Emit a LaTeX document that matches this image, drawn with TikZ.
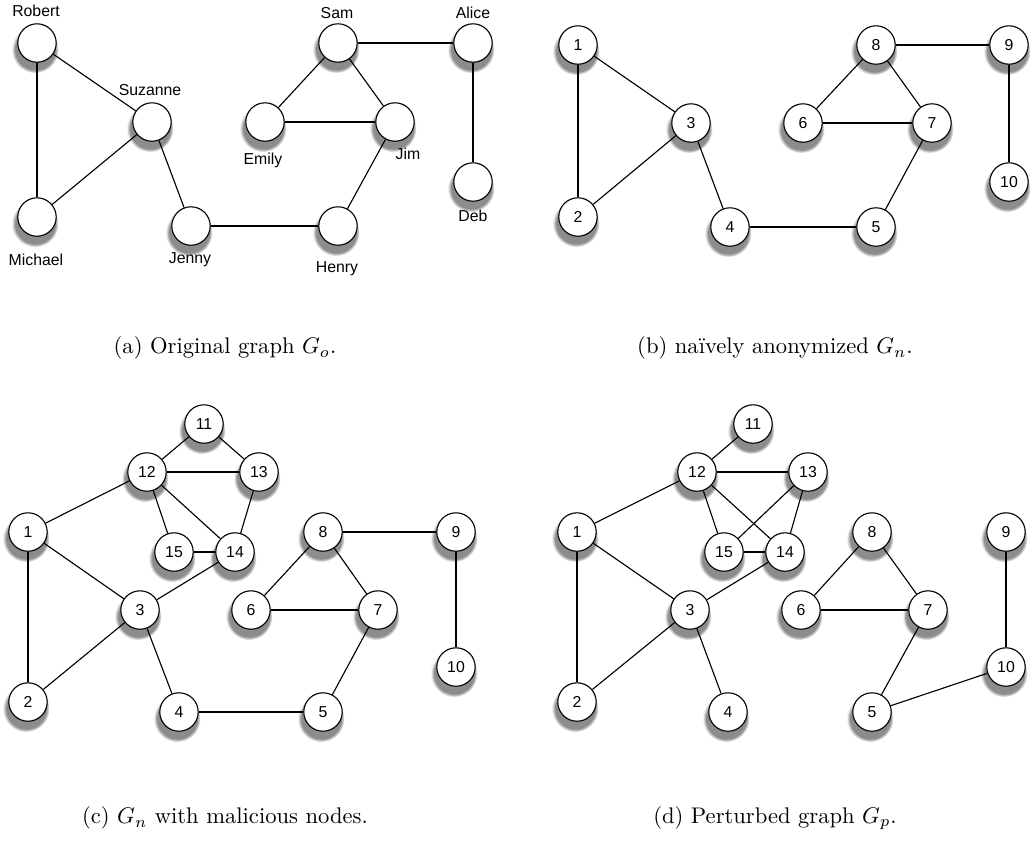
\documentclass[tikz,border=0pt]{standalone}
\usepackage{fontspec}
\newfontfamily\helv{Liberation Sans}
\usepackage{tikz}
\usetikzlibrary{shadows,fadings}

\begin{document}
\begin{tikzpicture}[x=0.4425pt,y=-0.4425pt,
				vertex/.style={circle,draw,line width=0.5pt,fill=white,minimum size=17pt,inner sep=0pt,
					font=\helv\fontsize{7}{8}\selectfont,
					circular drop shadow={shadow xshift=-0.7pt,shadow yshift=-2.4pt,shadow scale=1.22,opacity=0.9}},
				person/.style={inner sep=0pt,font=\helv\fontsize{7}{8}\selectfont},
				subcap/.style={inner sep=0pt,font=\fontsize{10}{12}\selectfont},
				every path/.style={line width=0.5pt}]
	\useasboundingbox (0,0) rectangle (1032,841);
	% (a) original graph
	\node[vertex] (Robert) at (37,43) {};
	\node[vertex] (Suzanne) at (152,122) {};
	\node[vertex] (Michael) at (37,217) {};
	\node[vertex] (Jenny) at (191,226) {};
	\node[vertex] (Henry) at (338,226) {};
	\node[vertex] (Emily) at (265,122) {};
	\node[vertex] (Jim) at (395,122) {};
	\node[vertex] (Sam) at (338,43) {};
	\node[vertex] (Alice) at (473,43) {};
	\node[vertex] (Deb) at (473,182) {};
	\node[person] (tRobert) at (36,11) {Robert};
	\node[person] (tSuzanne) at (150,90) {Suzanne};
	\node[person] (tMichael) at (36,260) {Michael};
	\node[person] (tJenny) at (190,260) {Jenny};
	\node[person] (tHenry) at (337,269) {Henry};
	\node[person] (tEmily) at (263,160) {Emily};
	\node[person] (tJim) at (408,154) {Jim};
	\node[person] (tSam) at (337,13) {Sam};
	\node[person] (tAlice) at (473,13) {Alice};
	\node[person] (tDeb) at (473,216) {Deb};
	\draw[-] (Robert) -- (Michael);
	\draw[-] (Robert) -- (Suzanne);
	\draw[-] (Suzanne) -- (Michael);
	\draw[-] (Suzanne) -- (Jenny);
	\draw[-] (Jenny) -- (Henry);
	\draw[-] (Henry) -- (Jim);
	\draw[-] (Emily) -- (Jim);
	\draw[-] (Sam) -- (Emily);
	\draw[-] (Sam) -- (Jim);
	\draw[-] (Sam) -- (Alice);
	\draw[-] (Alice) -- (Deb);
	\node[subcap] (capA) at (225,348) {(a)~Original graph $G_o$.};

	% (b) naively anonymized
	\node[vertex] (b1) at (578,45) {1};
	\node[vertex] (b2) at (578,217) {2};
	\node[vertex] (b3) at (691,123) {3};
	\node[vertex] (b4) at (730,227) {4};
	\node[vertex] (b5) at (876,227) {5};
	\node[vertex] (b6) at (803,123) {6};
	\node[vertex] (b7) at (932,123) {7};
	\node[vertex] (b8) at (876,45) {8};
	\node[vertex] (b9) at (1009,45) {9};
	\node[vertex] (b10) at (1009,182) {10};
	\draw[-] (b1) -- (b2);
	\draw[-] (b1) -- (b3);
	\draw[-] (b3) -- (b2);
	\draw[-] (b3) -- (b4);
	\draw[-] (b4) -- (b5);
	\draw[-] (b5) -- (b7);
	\draw[-] (b6) -- (b7);
	\draw[-] (b8) -- (b6);
	\draw[-] (b8) -- (b7);
	\draw[-] (b8) -- (b9);
	\draw[-] (b9) -- (b10);
	\node[subcap] (capB) at (775,348) {(b)~naïvely anonymized $G_n$.};

	% (c) with malicious nodes
	\node[vertex] (c1) at (28,532) {1};
	\node[vertex] (c2) at (28,702) {2};
	\node[vertex] (c3) at (140,610) {3};
	\node[vertex] (c4) at (179,712) {4};
	\node[vertex] (c5) at (323,712) {5};
	\node[vertex] (c6) at (251,610) {6};
	\node[vertex] (c7) at (378,610) {7};
	\node[vertex] (c8) at (323,532) {8};
	\node[vertex] (c9) at (456,532) {9};
	\node[vertex] (c10) at (456,667) {10};
	\node[vertex] (c11) at (204,424) {11};
	\node[vertex] (c12) at (147,472) {12};
	\node[vertex] (c13) at (259,472) {13};
	\node[vertex] (c14) at (235,552) {14};
	\node[vertex] (c15) at (174,552) {15};
	\draw[-] (c11) -- (c12);
	\draw[-] (c11) -- (c13);
	\draw[-] (c12) -- (c13);
	\draw[-] (c12) -- (c1);
	\draw[-] (c12) -- (c15);
	\draw[-] (c12) -- (c14);
	\draw[-] (c13) -- (c14);
	\draw[-] (c15) -- (c14);
	\draw[-] (c14) -- (c3);
	\draw[-] (c1) -- (c3);
	\draw[-] (c1) -- (c2);
	\draw[-] (c3) -- (c2);
	\draw[-] (c3) -- (c4);
	\draw[-] (c4) -- (c5);
	\draw[-] (c5) -- (c7);
	\draw[-] (c6) -- (c7);
	\draw[-] (c8) -- (c6);
	\draw[-] (c8) -- (c7);
	\draw[-] (c8) -- (c9);
	\draw[-] (c9) -- (c10);
	\node[subcap] (capC) at (225,818) {(c)~$G_n$ with malicious nodes.};

	% (d) perturbed graph
	\node[vertex] (d1) at (577,532) {1};
	\node[vertex] (d2) at (577,702) {2};
	\node[vertex] (d3) at (690,610) {3};
	\node[vertex] (d4) at (728,712) {4};
	\node[vertex] (d5) at (872,712) {5};
	\node[vertex] (d6) at (801,610) {6};
	\node[vertex] (d7) at (928,610) {7};
	\node[vertex] (d8) at (872,532) {8};
	\node[vertex] (d9) at (1006,532) {9};
	\node[vertex] (d10) at (1006,667) {10};
	\node[vertex] (d11) at (753,424) {11};
	\node[vertex] (d12) at (697,472) {12};
	\node[vertex] (d13) at (808,472) {13};
	\node[vertex] (d14) at (785,552) {14};
	\node[vertex] (d15) at (724,552) {15};
	\draw[-] (d11) -- (d12);
	\draw[-] (d12) -- (d13);
	\draw[-] (d12) -- (d1);
	\draw[-] (d12) -- (d15);
	\draw[-] (d12) -- (d14);
	\draw[-] (d13) -- (d15);
	\draw[-] (d13) -- (d14);
	\draw[-] (d15) -- (d14);
	\draw[-] (d14) -- (d3);
	\draw[-] (d1) -- (d3);
	\draw[-] (d1) -- (d2);
	\draw[-] (d3) -- (d2);
	\draw[-] (d3) -- (d4);
	\draw[-] (d8) -- (d6);
	\draw[-] (d8) -- (d7);
	\draw[-] (d6) -- (d7);
	\draw[-] (d7) -- (d5);
	\draw[-] (d5) -- (d10);
	\draw[-] (d9) -- (d10);
	\node[subcap] (capD) at (775,818) {(d)~Perturbed graph $G_p$.};
\end{tikzpicture}
\end{document}
